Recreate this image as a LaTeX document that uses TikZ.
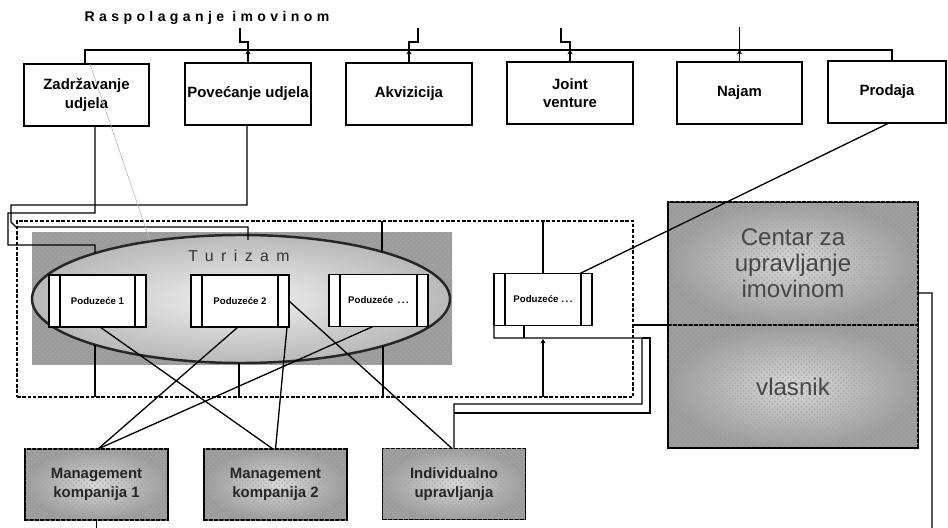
\documentclass[tikz,border=0pt]{standalone}
\usepackage{fontspec}
\setmainfont{Liberation Sans}
\usetikzlibrary{patterns,arrows.meta,calc}
\begin{document}
\begin{tikzpicture}[x=0.2mm,y=-0.2mm,
  every node/.style={inner sep=0pt, outer sep=0pt},
  ln/.style={line width=0.75pt},
  faint/.style={line width=0.35pt, gray!55},
  topbox/.style={draw, line width=0.8pt, fill=white, minimum height=12.4mm, align=center, font=\bfseries\fontsize{8.5}{10.5}\selectfont},
  podbox/.style={draw, line width=0.8pt, fill=white, minimum height=10.4mm, minimum width=19.6mm, font=\bfseries\fontsize{5.5}{6.5}\selectfont},
  shbox/.style={draw, line width=0.9pt, inner color=gray!30, outer color=gray!78, postaction={pattern=crosshatch dots, pattern color=gray!70}},
  botbox/.style={shbox, minimum width=28.6mm, minimum height=14.2mm, align=center, font=\bfseries\fontsize{8.5}{11}\selectfont, text=black!85},
  bigbox/.style={shbox, minimum width=50mm, minimum height=24.6mm, align=center, font=\fontsize{13.7}{14.8}\selectfont, text=black!72},
  tip/.style={-{Stealth[length=2.5pt,width=3pt]}}
]
\useasboundingbox (0,0) rectangle (948,528);

% Turizam shaded area and ellipse
\fill[inner color=gray!30, outer color=gray!78, postaction={pattern=crosshatch dots, pattern color=gray!70}] (32,233) rectangle (452,365);
\draw[line width=1.4pt, black!85, inner color=gray!12, outer color=gray!55] (241,299) ellipse [x radius=209, y radius=64];
\node[font=\fontsize{9}{10}\selectfont\addfontfeature{LetterSpace=47}, text=gray!40!black] (tur) at (239,256) {Turizam};

% dashed container
\node[draw, line width=0.8pt, dash pattern=on 2pt off 1pt, minimum width=123.2mm, minimum height=35.2mm] (cont) at (325,309) {};

% title
\node[font=\bfseries\fontsize{8}{9}\selectfont\addfontfeature{LetterSpace=31}] (title) at (207,18) {Raspolaganje imovinom};

% top boxes
\node[topbox, minimum width=25mm] (zad) at (86.5,95) {Zadržavanje\\udjela};
\node[topbox, minimum width=25.2mm] (pov) at (248,94) {Povećanje udjela};
\node[topbox, minimum width=25.2mm] (akv) at (409,94) {Akvizicija};
\node[topbox, minimum width=25.2mm] (jv) at (570,93) {Joint\\venture};
\node[topbox, minimum width=25mm] (naj) at (739.5,93) {Najam};
\node[topbox, minimum width=23.6mm] (pro) at (887,92) {Prodaja};

% top distribution line
\draw[ln] ($(zad.north)+(-1.5,0)$) -- (85,50) -- (892,50) -- ($(pro.north)+(5,0)$);
\draw[ln,tip] (pov.north) -- (248,50);
\draw[ln] (248,50) -- (248,42) -- (240,42) -- (240,28);
\draw[ln,tip] (akv.north) -- (409,50);
\draw[ln] (409,50) -- (409,42) -- (418,42) -- (418,28);
\draw[ln,tip] (jv.north) -- (570,50);
\draw[ln] (570,50) -- (570,42) -- (561,42) -- (561,28);
\draw[ln,tip] (naj.north) -- (739.5,50);
\draw[ln] (739.5,50) -- (739.5,27);

% lines from Zadrzavanje and Povecanje into Turizam
\draw[ln] ($(zad.south)+(8.5,0)$) -- (95,213) -- (8,213) -- (8,245) -- (95,245) -- (95,253);
\draw[ln] ($(pov.south)+(-1,0)$) -- (247,205) -- (11,205) -- (11,222) -- (16,227) -- (248,227) -- (248,240);
\draw[faint] ($(zad.north)+(3.5,0)$) -- (150,241);

% Poduzece boxes
\node[podbox, minimum width=19.4mm] (p1) at (97.5,301) {Poduzeće 1};
\node[podbox] (p2) at (240,301) {Poduzeće 2};
\node[podbox, minimum width=19.8mm] (p3) at (378.5,300.5) {Poduzeće \,.\,.\,.};
\node[podbox] (p4) at (543,299.5) {Poduzeće .\,.\,.};
\foreach \n in {p1,p2,p3,p4}{
  \draw[line width=0.8pt] ([xshift=2.2mm]\n.north west) -- ([xshift=2.2mm]\n.south west);
  \draw[line width=0.8pt] ([xshift=-2.2mm]\n.north east) -- ([xshift=-2.2mm]\n.south east);
}

% tree lines inside the container
\draw[ln] (95,345) -- (95,397);
\draw[ln] (239,363) -- (239,397);
\draw[ln] (383,346) -- (383,397);
\draw[ln] (382,221) -- (382,252);
\draw[ln] (543,221) -- (p4.north);

% bottom boxes
\node[botbox] (m1) at (96.5,484.5) {Management\\kompanija 1};
\node[botbox] (m2) at (275.5,484.5) {Management\\kompanija 2};
\node[botbox] (ind) at (454,484) {Individualno\\upravljanja};

% right boxes
\node[bigbox] (cen) at (793,263.5) {Centar za\\upravljanje\\imovinom};
\node[bigbox] (vla) at (793,386.5) {vlasnik};

% Prodaja to Poduzece
\draw[ln] ($(pro.south)+(2,0)$) -- ($(p4.north east)+(-12,0)$);

% loops from right Poduzece
\draw[ln] (p4.south west) -- (494,338) -- (642,338) -- (642,404) -- (454,404) -- (ind.north);
\draw[ln] (524,326) -- (524,338);
\draw[ln] (642,338) -- (650,338) -- (650,413) -- (454,413);
\draw[ln,tip] (543,397) -- (543,339);

% container to centre
\draw[ln] (cont.east |- cen.south) -- (cen.south -| cen.west);
\coordinate (rb) at (932,528);
\draw[ln] ($(cen.east)+(0,29.5)$) -- (932,293) -- (rb);
\coordinate (lb) at (96.5,528);
\draw[ln] (m1.south) -- (lb);

% diagonals to management
\draw[ln] ($(p1.south)+(2.5,0)$) -- ($(m2.north)+(-2.5,0)$);
\draw[ln] ($(p2.south)+(-2,0)$) -- ($(m1.north)+(1.5,0)$);
\draw[ln] ($(p3.south)+(-5.5,0)$) -- ($(m1.north)+(1.5,0)$);
\draw[ln] (p2.east) -- ($(ind.north)+(-2,0)$);
\draw[ln] ($(p2.south east)+(-2,0)$) -- (m2.north);
\end{tikzpicture}
\end{document}
